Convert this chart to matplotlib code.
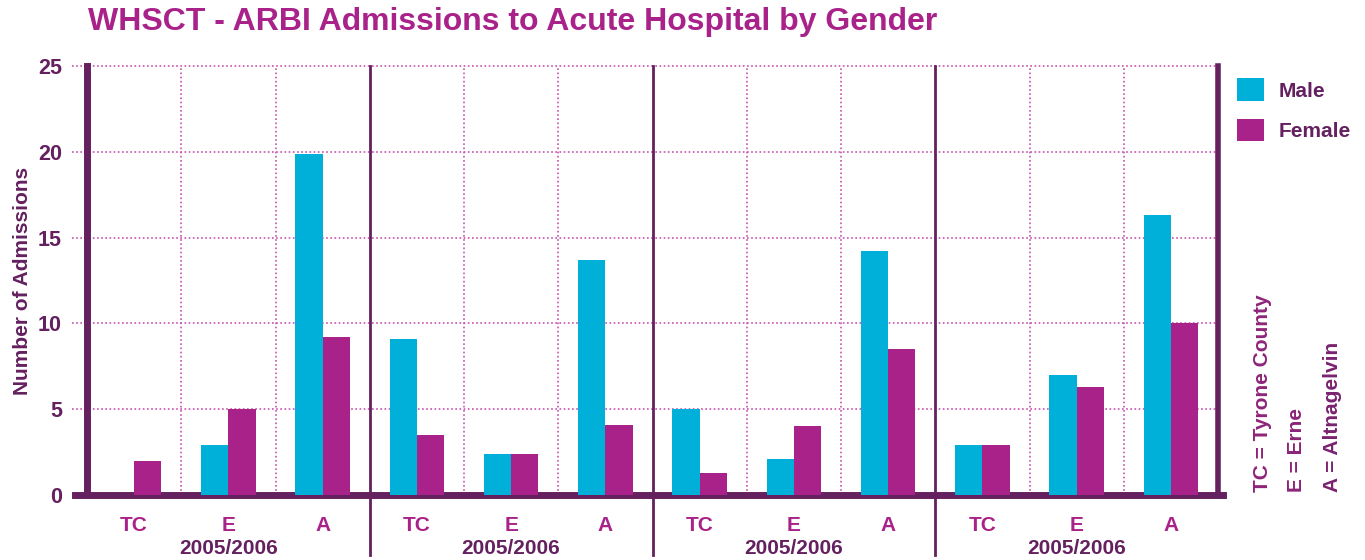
import matplotlib
matplotlib.use('Agg')
import matplotlib.pyplot as plt
import numpy as np

plt.rcParams['font.family'] = ['Liberation Sans', 'DejaVu Sans']

MAGENTA = '#A8228A'
CYAN = '#00B0D8'
PURPLE = '#64205F'
GRID = '#C653B0'

sites = ['TC', 'E', 'A'] * 4
years = ['2005/2006'] * 4
male = [0, 2.9, 19.9, 9.1, 2.4, 13.7, 5.0, 2.1, 14.2, 2.9, 7.0, 16.3]
female = [2.0, 5.0, 9.2, 3.5, 2.4, 4.1, 1.3, 4.0, 8.5, 2.9, 6.3, 10.0]
yticks = [0, 5, 10, 15, 20, 25]

fig = plt.figure(figsize=(13.65, 5.6), dpi=100)
ax = fig.add_axes([87/1365, 1 - 495/560, (1218 - 87)/1365, (495 - 66)/560])

x = np.arange(len(sites))
w = 0.29
ax.bar(x - w/2, male, w, color=CYAN, label='Male', zorder=3)
ax.bar(x + w/2, female, w, color=MAGENTA, label='Female', zorder=3)

ax.set_xlim(-0.5, len(sites) - 0.5)
ax.set_ylim(0, 25)

# dotted grid, horizontal lines stick out a little to the left
for yv in yticks[1:]:
    ax.plot([-0.013, 1], [yv/25, yv/25], transform=ax.transAxes, color=GRID,
            lw=1.2, ls=(0, (1, 1.5)), clip_on=False, zorder=1)
for xv in np.arange(0.5, len(sites) - 0.5, 1):
    if (xv + 0.5) % 3 == 0:
        ax.axvline(xv, ymin=-0.14, ymax=1, color=PURPLE, lw=2, clip_on=False, zorder=2)
    else:
        ax.axvline(xv, color=GRID, lw=1.2, ls=(0, (1, 1.5)), zorder=1)

ax.spines['top'].set_visible(False)
ax.spines['left'].set_color(PURPLE)
ax.spines['left'].set_linewidth(5)
ax.spines['right'].set_color(PURPLE)
ax.spines['right'].set_linewidth(4)
ax.spines['bottom'].set_color(PURPLE)
ax.spines['bottom'].set_linewidth(5)
ax.spines['bottom'].set_bounds(-0.63, len(sites) - 0.45)

ax.set_yticks(yticks)
ax.set_yticklabels([str(v) for v in yticks], fontsize=15.5, fontweight='bold', color=PURPLE)
ax.tick_params(axis='y', length=0, pad=18)
ax.set_xticks(x)
ax.set_xticklabels(sites, fontsize=15, fontweight='bold', color=MAGENTA)
ax.tick_params(axis='x', length=0, pad=15)

for i, yr in enumerate(years):
    ax.text(3*i + 1, -0.125, yr, transform=ax.get_xaxis_transform(), ha='center', va='center',
            fontsize=15, fontweight='bold', color=PURPLE)

ax.set_ylabel('Number of Admissions', fontsize=15, fontweight='bold', color=PURPLE, labelpad=4)

fig.text(88/1365, 1 - 22/560, 'WHSCT - ARBI Admissions to Acute Hospital by Gender',
         fontsize=23, fontweight='bold', color=MAGENTA, va='center', ha='left')

# legend
leg = ax.legend(loc='upper left', bbox_to_anchor=(1.0, 1.015), frameon=False,
                prop={'size': 15, 'weight': 'bold'}, handlelength=1.3, handleheight=1.3,
                labelspacing=0.85, handletextpad=0.7)
for t in leg.get_texts():
    t.set_color(PURPLE)

keys = ['TC = Tyrone County', 'E = Erne', 'A = Altnagelvin']
key_cols = ['#8E2479', '#8A2478', '#7A2270']
for i, k in enumerate(keys):
    fig.text((1262 + 35*i)/1365, 1 - 492/560, k, rotation=90, fontsize=15, fontweight='bold',
             color=key_cols[i], ha='center', va='bottom')

fig.savefig('out.png', dpi=100)
